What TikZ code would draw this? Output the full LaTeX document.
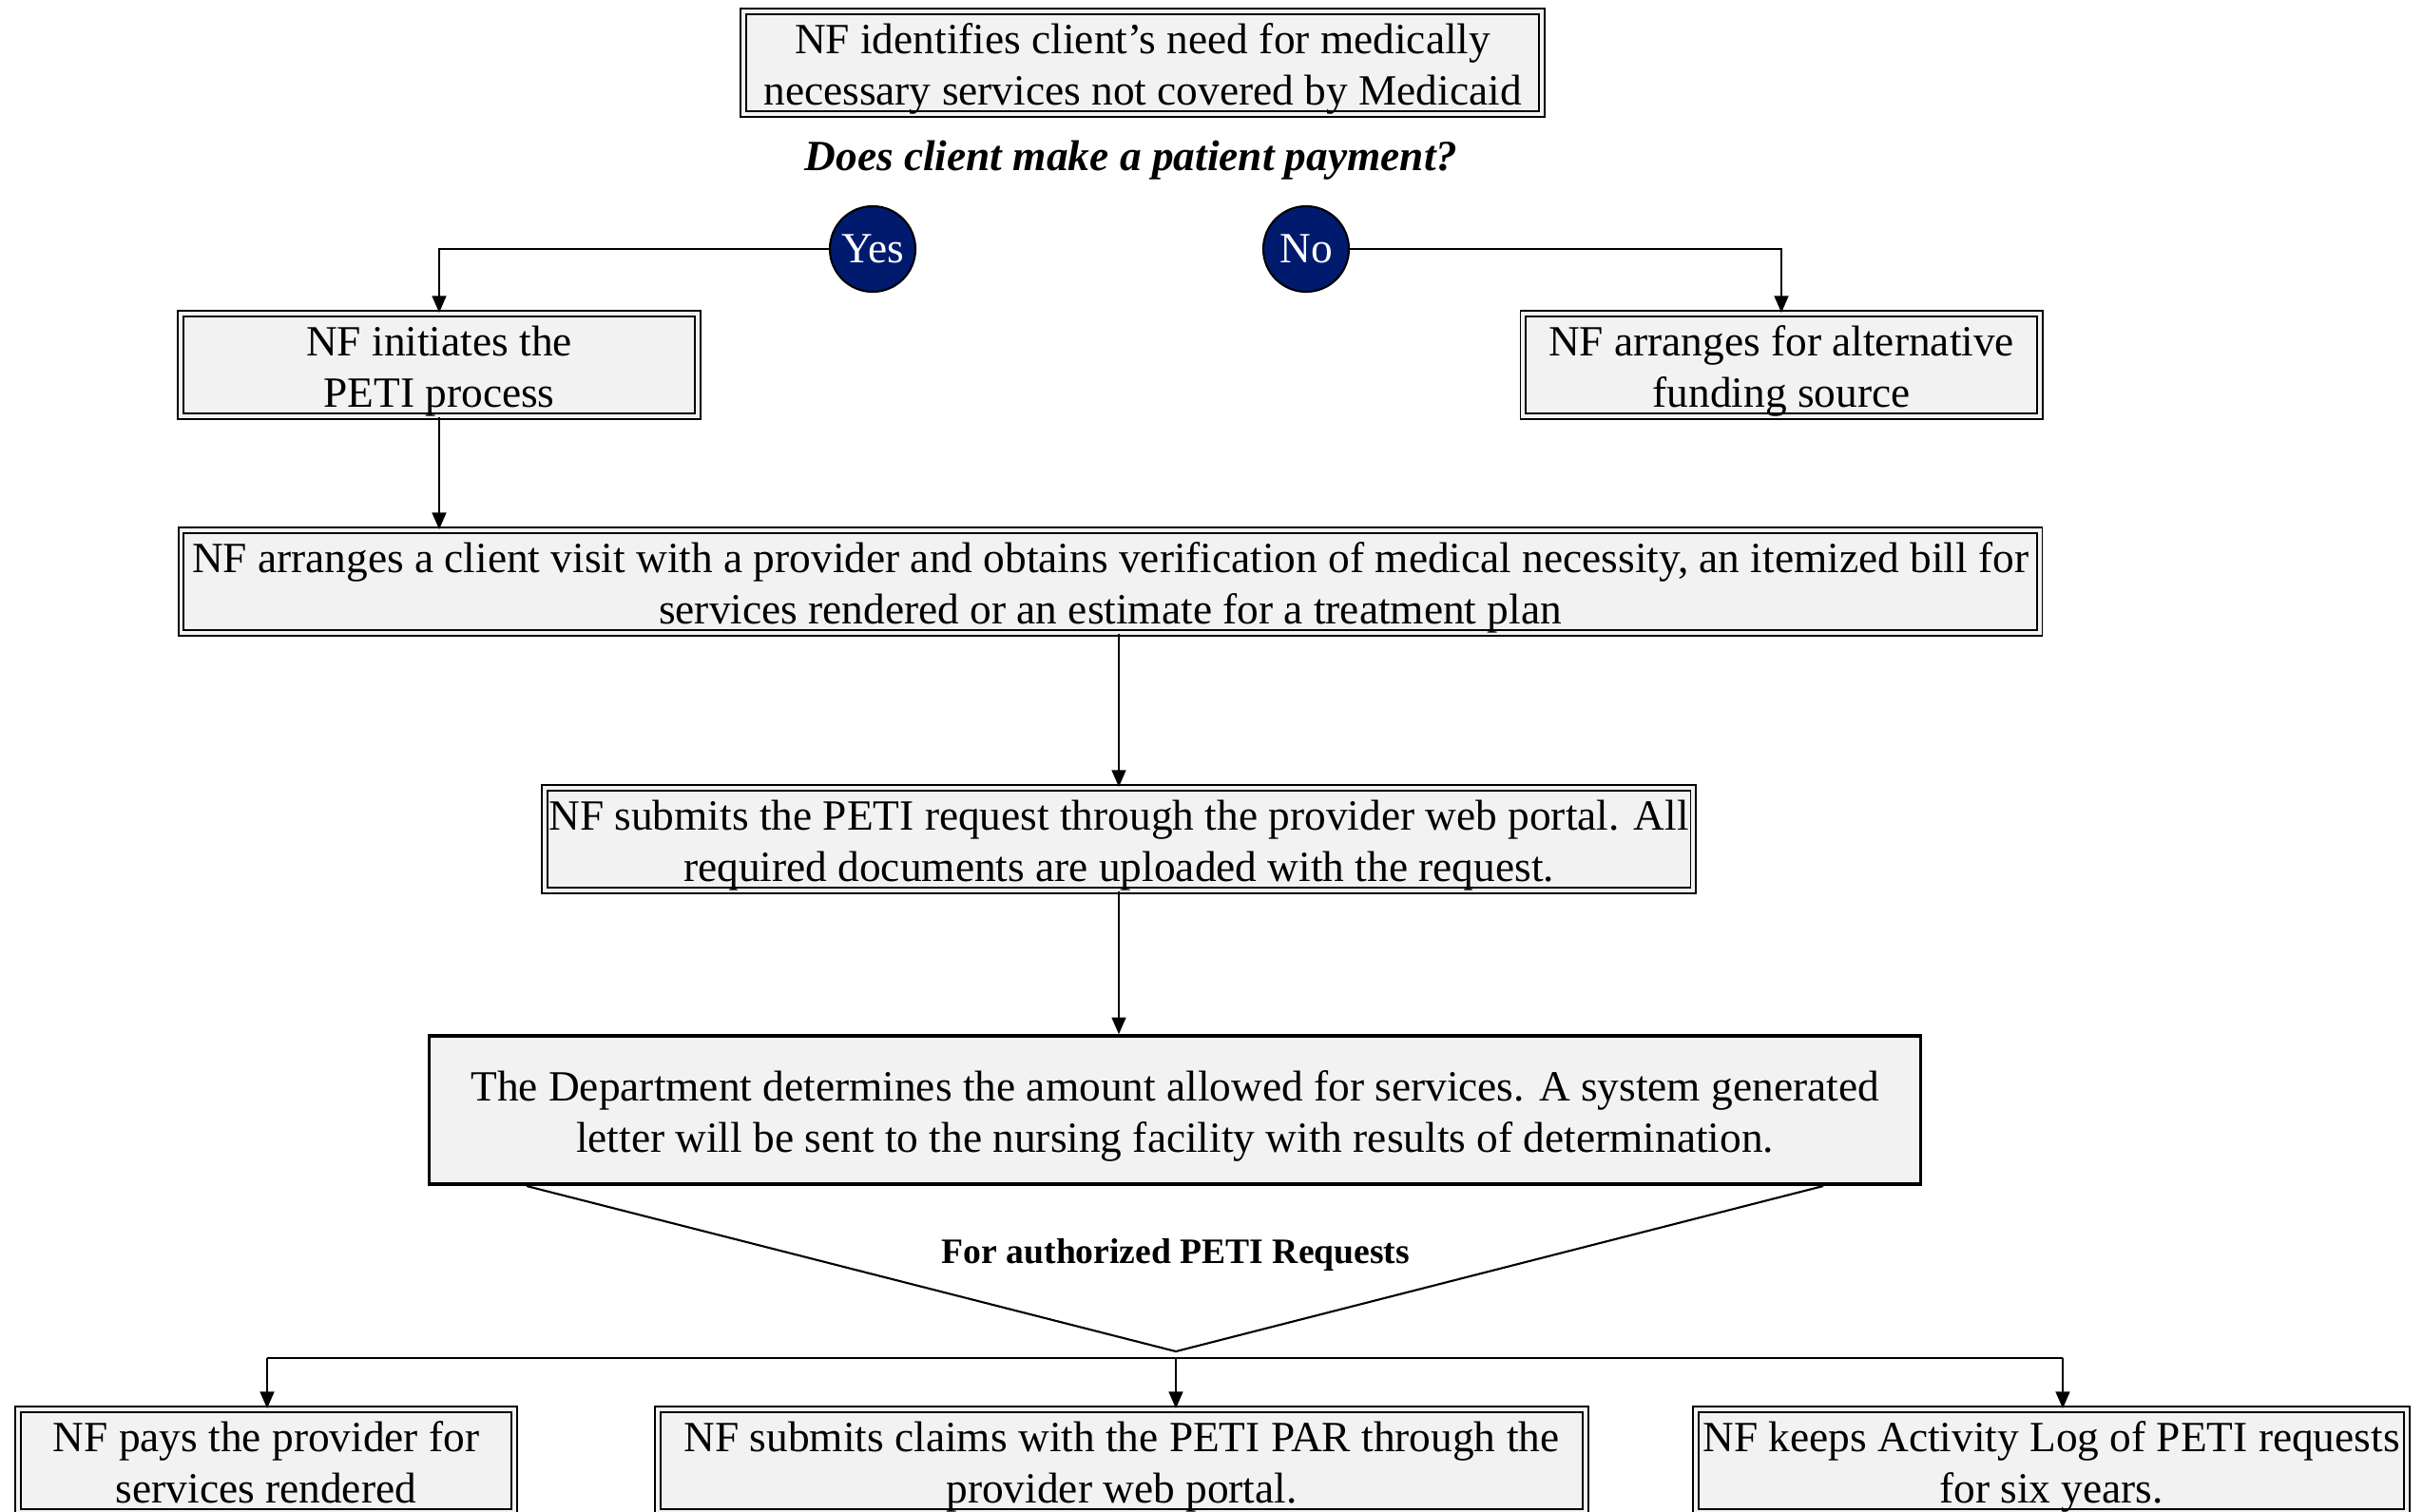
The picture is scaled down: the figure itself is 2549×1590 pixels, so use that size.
\documentclass[tikz,border=0pt]{standalone}
\usepackage{fontspec}
\setmainfont{Liberation Serif}
\usetikzlibrary{arrows.meta}
\definecolor{boxfill}{HTML}{F2F2F2}
\definecolor{navyfill}{HTML}{001A6E}
\begin{document}
\begin{tikzpicture}[x=0.01cm,y=-0.01cm,
  mainfont/.style={font=\fontsize{12.9}{15.5}\selectfont},
  boxtext/.style={mainfont, align=center, text height=27.2pt, text depth=1.8pt},
  dbox/.style={draw, line width=0.55pt, double=boxfill, double distance=1.1pt,
    fill=boxfill, inner sep=0pt, boxtext, minimum height=1.08cm},
  sbox/.style={draw, line width=1pt, fill=boxfill, inner sep=0pt, boxtext},
  yn/.style={circle, draw, line width=0.6pt, fill=navyfill, text=white, minimum size=0.9cm, inner sep=0pt, mainfont},
  conn/.style={line width=0.6pt},
  arr/.style={conn, -{Triangle[length=5pt,width=4.2pt]}}
]
\useasboundingbox (0,0) rectangle (2549,1590);

\node[dbox, minimum width=8.39cm] (top) at (1202,66) {NF identifies client’s need for medically\\necessary services not covered by Medicaid};
\node[font=\fontsize{12.9}{15}\selectfont\bfseries\itshape] (q) at (1190,169) {Does client make a patient payment?};

\node[yn] (yes) at (918,262) {Yes};
\node[yn] (no) at (1374,262) {No};

\node[dbox, minimum width=5.43cm] (peti) at (462,384) {NF initiates the\\PETI process};
\node[dbox, minimum width=5.43cm] (alt) at (1874,384) {NF arranges for alternative\\funding source};

\node[dbox, minimum width=19.54cm] (visit) at (1168,612) {NF arranges a client visit with a provider and obtains verification of medical necessity, an itemized bill for\\services rendered or an estimate for a treatment plan};

\node[dbox, minimum width=12.08cm] (submit) at (1177,883) {NF submits the PETI request through the provider web portal. All\\required documents are uploaded with the request.};

\node[sbox, minimum width=15.68cm, minimum height=1.56cm] (dept) at (1236,1168) {The Department determines the amount allowed for services. A system generated\\letter will be sent to the nursing facility with results of determination.};

\node[font=\fontsize{10.7}{12}\selectfont\bfseries] (auth) at (1237,1320) {For authorized PETI Requests};

\node[dbox, minimum width=5.21cm] (b1) at (280,1537) {NF pays the provider for\\services rendered};
\node[dbox, minimum width=9.75cm] (b2) at (1180,1537) {NF submits claims with the PETI PAR through the\\provider web portal.};
\node[dbox, minimum width=7.48cm] (b3) at (2158,1537) {NF keeps Activity Log of PETI requests\\for six years.};

\draw[arr] (yes.west) -| (peti.north);
\draw[arr] (no.east) -| (alt.north);
\draw[arr] (peti.south) -- (peti.south |- visit.north);
\draw[arr] (submit.north |- visit.south) -- (submit.north);
\draw[arr] (submit.south) -- (submit.south |- dept.north);

\coordinate (vl) at (554,1248);
\coordinate (vtip) at (1237,1422);
\coordinate (vr) at (1918,1248);
\draw[conn] (vl) -- (vtip) -- (vr);

\coordinate (hl) at (281,1429);
\coordinate (hm) at (1237,1429);
\coordinate (hr) at (2170,1429);
\draw[conn] (hl) -- (hr);
\draw[arr] (hl) -- (hl |- b1.north);
\draw[arr] (hm) -- (hm |- b2.north);
\draw[arr] (hr) -- (hr |- b3.north);
\end{tikzpicture}
\end{document}
